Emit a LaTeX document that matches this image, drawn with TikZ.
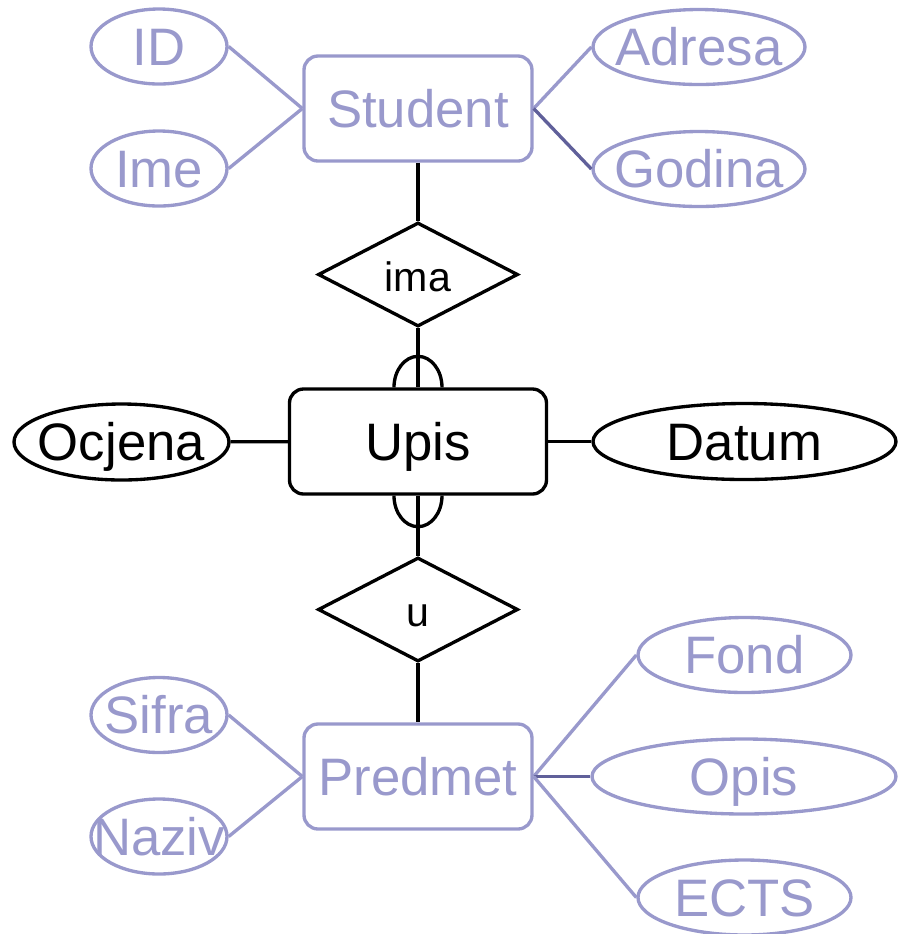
\documentclass[tikz,border=0pt]{standalone}
\usepackage{fontspec}
\setmainfont{Liberation Sans}
\usepackage{tikz}
\usetikzlibrary{shapes.geometric}
\definecolor{lav}{HTML}{9999CC}
\definecolor{lavdark}{HTML}{60609A}
\tikzset{entity/.style = {shape=rectangle,draw,line width=0.95pt,rounded corners=0.14cm,minimum width=2.28cm,minimum height=1.05cm,inner sep=0pt,text height=14pt,text depth=3.2pt,font=\fontsize{15}{18}\selectfont}}
\tikzset{attrib/.style = {shape=ellipse,draw,line width=0.95pt,minimum width=1.36cm,minimum height=0.75cm,inner sep=-0.3cm,text height=14pt,text depth=3.2pt,font=\fontsize{15}{18}\selectfont}}
\tikzset{rel/.style = {shape=diamond,draw,line width=0.95pt,aspect=2,minimum width=2cm,minimum height=1.04cm,inner sep=0pt,text height=11pt,text depth=1.4pt,font=\fontsize{11.7}{14}\selectfont}}
\tikzset{faded/.style = {draw=lav,text=lav}}
\tikzset{edge/.style = {line width=0.95pt}}

\begin{document}
\begin{tikzpicture}
                    \useasboundingbox (0,0) rectangle (9.06,-9.34);

                    \node[entity, faded] (s) at (4.18,-1.085) {Student};
                    \node[attrib, faded] (id) at (1.59,-0.465) {ID};
                    \node[attrib, faded] (ime) at (1.59,-1.685) {Ime};
                    \node[attrib, faded, minimum width=2.12cm] (adr) at (6.99,-0.47) {Adresa};
                    \node[attrib, faded, minimum width=2.12cm] (god) at (6.99,-1.69) {Godina};

                    \node[rel] (ima) at (4.18,-2.745) {ima};
                    \node[entity, minimum width=2.57cm] (up) at (4.18,-4.415) {Upis};
                    \node[attrib, minimum width=2.15cm, minimum height=0.76cm] (ocj) at (1.215,-4.42) {Ocjena};
                    \node[attrib, minimum width=3.03cm, minimum height=0.76cm] (dat) at (7.445,-4.415) {Datum};
                    \node[rel] (u) at (4.18,-6.095) {u};

                    \node[entity, faded] (p) at (4.18,-7.765) {Predmet};
                    \node[attrib, faded] (sif) at (1.59,-7.15) {Sifra};
                    \node[attrib, faded] (naz) at (1.59,-8.365) {Naziv};
                    \node[attrib, faded, minimum width=2.13cm] (fond) at (7.445,-6.55) {Fond};
                    \node[attrib, faded, minimum width=3.04cm] (opis) at (7.44,-7.765) {Opis};
                    \node[attrib, faded, minimum width=2.13cm] (ects) at (7.445,-8.975) {ECTS};

                    \draw[edge, lav] (id.east) -- (s.west);
                    \draw[edge, lav] (ime.east) -- (s.west);
                    \draw[edge, lav] (s.east) -- (adr.west);
                    \draw[edge, lavdark] (s.east) -- (god.west);
                    \draw[edge] (s) -- (ima);
                    \draw[edge] (ima) -- (up);
                    \draw[edge] (ocj) -- (up);
                    \draw[edge] (up) -- (dat);
                    \draw[edge] (up) -- (u);
                    \draw[edge] (u) -- (p);
                    \draw[edge, lav] (sif.east) -- (p.west);
                    \draw[edge, lav] (naz.east) -- (p.west);
                    \draw[edge, lav] (p.east) -- (fond.west);
                    \draw[edge, lavdark] (p.east) -- (opis.west);
                    \draw[edge, lav] (p.east) -- (ects.west);

                    \draw[edge] (up.north) ++(-0.24,0) arc[start angle=180, end angle=0, x radius=0.24, y radius=0.31];
                    \draw[edge] (up.south) ++(-0.24,0) arc[start angle=180, end angle=360, x radius=0.24, y radius=0.31];
                \end{tikzpicture}
\end{document}
